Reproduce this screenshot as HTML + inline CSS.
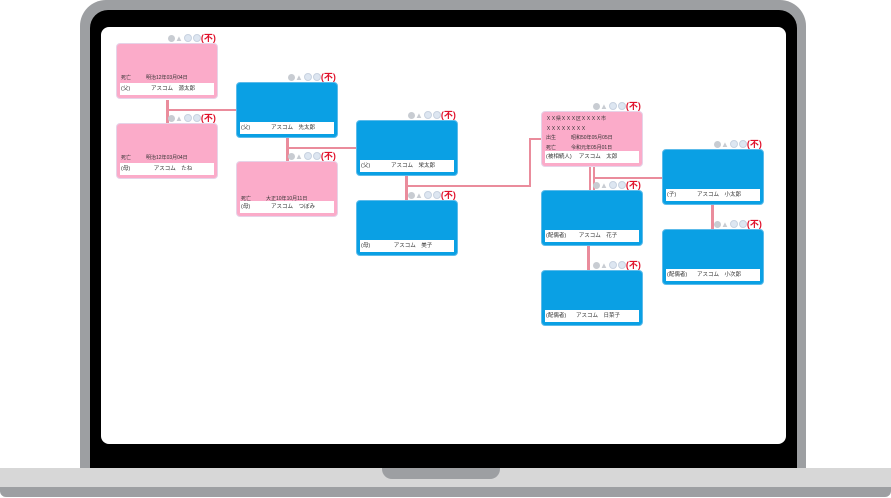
<!DOCTYPE html>
<html><head><meta charset="utf-8"><style>
*{margin:0;padding:0;box-sizing:border-box}
body{width:891px;height:498px;background:#fff;position:relative;overflow:hidden;font-family:"Liberation Sans","Noto Sans CJK JP",sans-serif}
div{position:absolute}
.c{width:102px;height:56px;border-radius:4px;border:1.5px solid #cfe3f3}
.b{background:#0aa0e4;border-color:#5cbbea}
.p{background:#fbabc9;border-color:#e6d3e8}
.n{left:3px;right:3px;bottom:3px;height:12px;background:#fff;font-size:5.5px;line-height:12px;color:#333}
.n span{position:absolute;left:1px}
.n i{font-style:normal;position:absolute;left:12px;right:0;text-align:center}
.t{font-size:5px;color:#333}
.ic{font-size:8px;line-height:9px;white-space:nowrap;color:#c8ccd2;height:9px}
.ic b{display:inline-block;width:7px;height:7px;border-radius:50%;background:#c8ccd2;vertical-align:-1px}
.ic u{display:inline-block;width:8px;height:8px;border-radius:50%;background:#dde6f1;border:1px solid #c8d2e0;vertical-align:-1px;margin-left:1px;text-decoration:none}
.ic em{font-style:normal;color:#e0102a;font-weight:bold;font-size:9px}
.l{background:#ea8c9c}
</style></head><body>
<div style="left:80px;top:0;width:726px;height:475px;background:#9d9fa2;border-radius:26px 26px 0 0"></div>
<div style="left:90px;top:10px;width:707px;height:465px;background:#000;border-radius:18px 18px 0 0"></div>
<div style="left:101px;top:27px;width:685px;height:417px;background:#fff;border-radius:8px"></div>
<div style="left:0;top:468px;width:891px;height:29px;background:#9d9fa2;border-radius:0 0 6px 6px"></div>
<div style="left:0;top:468px;width:891px;height:19px;background:#d7d7d7"></div>
<div style="left:382px;top:468px;width:118px;height:11px;background:#9d9fa2;border-radius:0 0 10px 10px"></div>

<div class="l" style="left:166px;top:100px;width:3px;height:24px"></div>
<div class="l" style="left:167px;top:109px;width:70px;height:2px"></div>
<div class="l" style="left:286px;top:137px;width:3px;height:25px"></div>
<div class="l" style="left:287px;top:147px;width:70px;height:2px"></div>
<div class="l" style="left:405px;top:176px;width:3px;height:25px"></div>
<div class="l" style="left:406px;top:185px;width:125px;height:2px"></div>
<div class="l" style="left:529px;top:138px;width:2px;height:49px"></div>
<div class="l" style="left:529px;top:138px;width:13px;height:2px"></div>
<div class="l" style="left:589px;top:166px;width:2px;height:25px"></div>
<div class="l" style="left:593px;top:166px;width:2px;height:25px"></div>
<div class="l" style="left:594px;top:177px;width:69px;height:2px"></div>
<div class="l" style="left:587px;top:246px;width:3px;height:25px"></div>
<div class="l" style="left:711px;top:205px;width:3px;height:25px"></div>

<div class="c p" style="left:116px;top:43px"><div class="t" style="left:4px;top:30px">死亡　　　明治12年03月04日</div><div class="n"><span>(父)</span><i>アスコム　源太郎</i></div></div>
<div class="c p" style="left:116px;top:123px"><div class="t" style="left:4px;top:30px">死亡　　　明治12年03月04日</div><div class="n"><span>(母)</span><i>アスコム　たね</i></div></div>
<div class="c b" style="left:236px;top:82px"><div class="n"><span>(父)</span><i>アスコム　先太郎</i></div></div>
<div class="c p" style="left:236px;top:161px"><div class="t" style="left:4px;top:33px">死亡　　　大正10年10月11日</div><div class="n"><span>(母)</span><i>アスコム　つぼみ</i></div></div>
<div class="c b" style="left:356px;top:120px"><div class="n"><span>(父)</span><i>アスコム　栄太郎</i></div></div>
<div class="c b" style="left:356px;top:200px"><div class="n"><span>(母)</span><i>アスコム　美子</i></div></div>
<div class="c p" style="left:541px;top:111px"><div class="t" style="left:4px;top:3px;line-height:9.5px">ＸＸ県ＸＸＸ区ＸＸＸＸ市<br>ＸＸＸＸＸＸＸＸ<br>出生　　　昭和50年05月05日<br>死亡　　　令和元年05月01日</div><div class="n"><span>(被相続人)</span><i>アスコム　太郎</i></div></div>
<div class="c b" style="left:541px;top:190px"><div class="n"><span>(配偶者)</span><i>アスコム　花子</i></div></div>
<div class="c b" style="left:541px;top:270px"><div class="n"><span>(配偶者)</span><i>アスコム　日菜子</i></div></div>
<div class="c b" style="left:662px;top:149px"><div class="n"><span>(子)</span><i>アスコム　小太郎</i></div></div>
<div class="c b" style="left:662px;top:229px"><div class="n"><span>(配偶者)</span><i>アスコム　小次郎</i></div></div>

<div class="ic" style="left:168px;top:34px"><b></b>▲<u></u><u></u><em>(不)</em></div>
<div class="ic" style="left:168px;top:114px"><b></b>▲<u></u><u></u><em>(不)</em></div>
<div class="ic" style="left:288px;top:73px"><b></b>▲<u></u><u></u><em>(不)</em></div>
<div class="ic" style="left:288px;top:152px"><b></b>▲<u></u><u></u><em>(不)</em></div>
<div class="ic" style="left:408px;top:111px"><b></b>▲<u></u><u></u><em>(不)</em></div>
<div class="ic" style="left:408px;top:191px"><b></b>▲<u></u><u></u><em>(不)</em></div>
<div class="ic" style="left:593px;top:102px"><b></b>▲<u></u><u></u><em>(不)</em></div>
<div class="ic" style="left:593px;top:181px"><b></b>▲<u></u><u></u><em>(不)</em></div>
<div class="ic" style="left:593px;top:261px"><b></b>▲<u></u><u></u><em>(不)</em></div>
<div class="ic" style="left:714px;top:140px"><b></b>▲<u></u><u></u><em>(不)</em></div>
<div class="ic" style="left:714px;top:220px"><b></b>▲<u></u><u></u><em>(不)</em></div>
</body></html>
